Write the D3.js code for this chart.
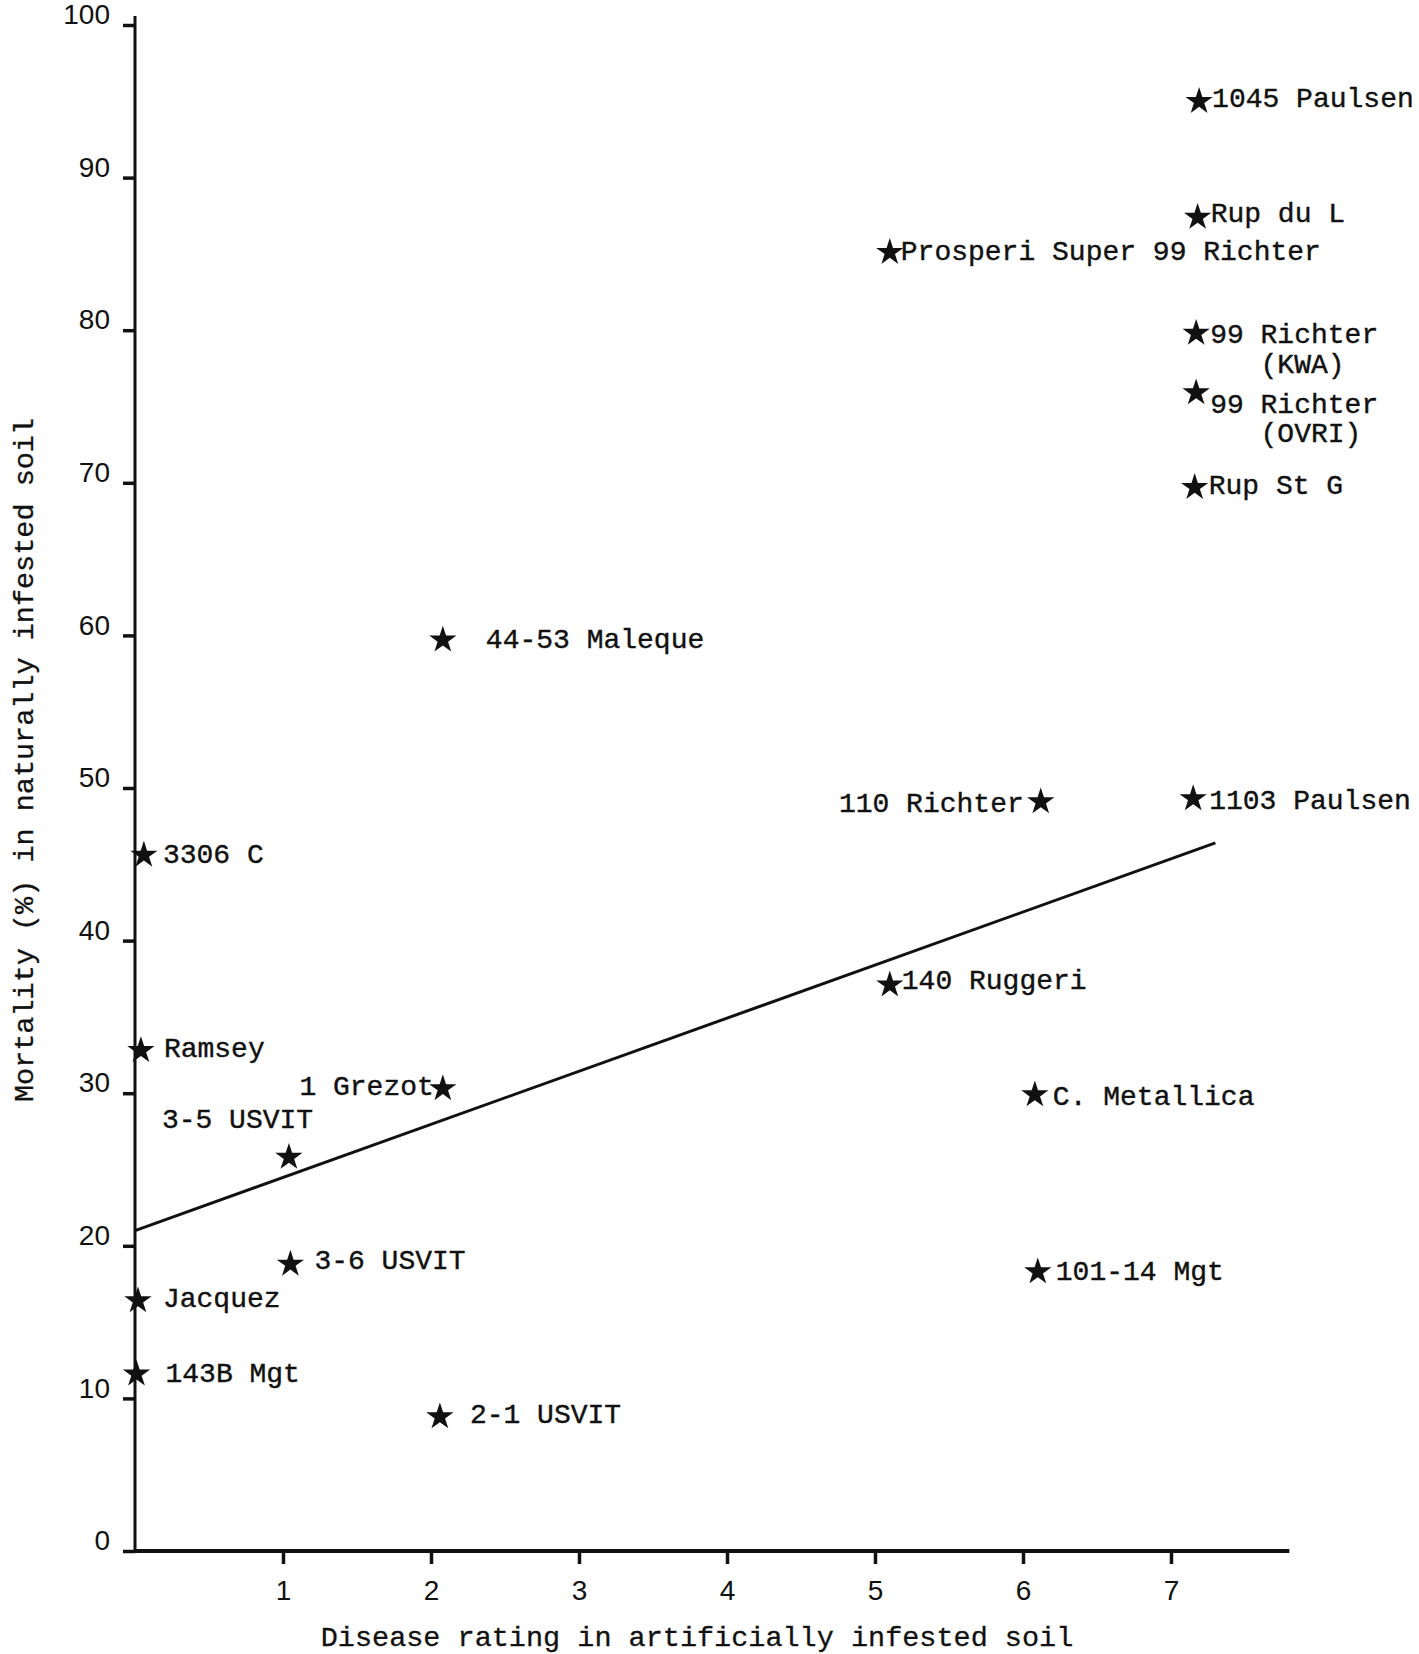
<!DOCTYPE html>
<html>
<head>
<meta charset="utf-8">
<script src="https://cdn.jsdelivr.net/npm/d3@7"></script>
<style>
  body { margin: 0; background: #fff; }
  svg { display: block; }
  .lbl { font-family: "Liberation Mono", "DejaVu Sans Mono", monospace; font-size: 28px; fill: #111; stroke: #111; stroke-width: 0.4px; }
  .tick text { font-family: "Liberation Sans", "DejaVu Sans", sans-serif; font-size: 28px; fill: #111; }
  .title { font-family: "Liberation Mono", "DejaVu Sans Mono", monospace; font-size: 28.5px; fill: #111; stroke: #111; stroke-width: 0.3px; }
</style>
</head>
<body>
<svg id="chart" width="1419" height="1654"></svg>
<script>
// values
const cultivars = [
  "1045 Paulsen", "Rup du L", "Prosperi Super 99 Richter", "99 Richter\n(KWA)",
  "99 Richter\n(OVRI)", "Rup St G", "44-53 Maleque", "110 Richter", "1103 Paulsen",
  "3306 C", "140 Ruggeri", "Ramsey", "1 Grezot", "C. Metallica", "3-5 USVIT",
  "3-6 USVIT", "101-14 Mgt", "Jacquez", "143B Mgt", "2-1 USVIT"
];
const diseaseRating = [7.19, 7.18, 5.1, 7.17, 7.17, 7.16, 2.08, 6.12, 7.15,
  0.06, 5.1, 0.04, 2.08, 6.08, 1.04, 1.05, 6.1, 0.02, 0.01, 2.06];
const mortality = [95.0, 87.4, 85.1, 79.8, 75.9, 69.7, 59.7, 49.1, 49.3,
  45.6, 37.1, 32.8, 30.3, 29.9, 25.8, 18.8, 18.3, 16.4, 11.6, 8.8];
const trendX = [0, 7.3];
const trendY = [21.0, 46.4];
const xTicks = [1, 2, 3, 4, 5, 6, 7];
const yTicks = [0, 10, 20, 30, 40, 50, 60, 70, 80, 90, 100];

// where each label sits relative to its star
const labelPlace = {
  "1045 Paulsen": [13, -4], "Rup du L": [13, -5], "Prosperi Super 99 Richter": [11, -2],
  "99 Richter\n(KWA)": [14, 0], "99 Richter\n(OVRI)": [14, 10], "Rup St G": [14, -3],
  "44-53 Maleque": [43, -2], "110 Richter": [-17, 0, "end"], "1103 Paulsen": [16, 1],
  "3306 C": [19, -2], "140 Ruggeri": [12, -6], "Ramsey": [23, -3],
  "1 Grezot": [-9, -3, "end"], "C. Metallica": [18, 0], "3-5 USVIT": [-127, -39],
  "3-6 USVIT": [24, -5], "101-14 Mgt": [18, -2], "Jacquez": [25, -4],
  "143B Mgt": [29, -2], "2-1 USVIT": [30, -4]
};

const svg = d3.select("#chart");
const x = d3.scaleLinear().domain([0, 1]).range([135, 283]);
const y = d3.scaleLinear().domain([0, 100]).range([1551, 25]);
const ink = "#111";

// axes
const xAxis = svg.append("g").attr("transform", `translate(0,${y(0)})`)
  .call(d3.axisBottom(x).tickValues(xTicks).tickFormat(d3.format("d")).tickSize(13).tickPadding(16));
const yAxis = svg.append("g").attr("transform", `translate(${x(0)},0)`)
  .call(d3.axisLeft(y).tickValues(yTicks).tickFormat(d3.format("d")).tickSize(12).tickPadding(13));
[xAxis, yAxis].forEach(g => {
  g.select(".domain").remove();
  g.selectAll(".tick line").attr("stroke", ink).attr("stroke-width", 3.5);
});
yAxis.selectAll(".tick text").attr("dy", "-0.05em");

svg.append("line").attr("x1", x(0)).attr("x2", x(7.8)).attr("y1", y(0)).attr("y2", y(0))
  .attr("stroke", ink).attr("stroke-width", 4);
svg.append("line").attr("x1", x(0)).attr("x2", x(0)).attr("y1", y(0)).attr("y2", y(100) - 9)
  .attr("stroke", ink).attr("stroke-width", 3);

// regression line
svg.append("line")
  .attr("x1", x(trendX[0])).attr("y1", y(trendY[0]))
  .attr("x2", x(trendX[1])).attr("y2", y(trendY[1]))
  .attr("stroke", ink).attr("stroke-width", 3);

// points
const pts = cultivars.map((name, i) => ({ name, dr: diseaseRating[i], m: mortality[i] }));
const star = d3.symbol().type(d3.symbolStar).size(230);

svg.append("g").selectAll("path").data(pts).join("path")
  .attr("d", star)
  .attr("fill", ink)
  .attr("transform", d => `translate(${x(d.dr)},${y(d.m)})`);

const labels = svg.append("g").selectAll("text").data(pts).join("text")
  .attr("class", "lbl")
  .attr("text-anchor", d => labelPlace[d.name][2] || "start")
  .attr("x", d => x(d.dr) + labelPlace[d.name][0])
  .attr("y", d => y(d.m) + labelPlace[d.name][1])
  .attr("dy", "0.35em");

labels.each(function(d) {
  const lines = d.name.split("\n");
  const t = d3.select(this);
  const x0 = x(d.dr) + labelPlace[d.name][0];
  if (lines.length === 1) { t.text(d.name); return; }
  t.append("tspan").text(lines[0]);
  t.append("tspan").attr("x", x0 + 50.4).attr("dy", 29.5).text(lines[1]);
});

// axis titles
svg.append("text").attr("class", "title")
  .attr("x", 697).attr("y", 1636).attr("dy", "0.35em")
  .attr("text-anchor", "middle")
  .text("Disease rating in artificially infested soil");
svg.append("text").attr("class", "title")
  .attr("transform", "translate(23,760) rotate(-90)")
  .attr("dy", "0.35em")
  .attr("text-anchor", "middle")
  .text("Mortality (%) in naturally infested soil");
</script>
</body>
</html>
